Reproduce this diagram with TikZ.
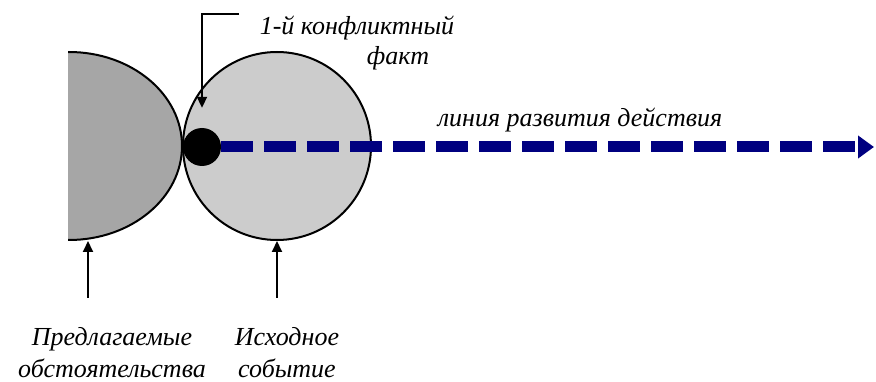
\documentclass[tikz,border=0pt]{standalone}
\usepackage{fontspec}
\setmainfont{Liberation Serif}
\usetikzlibrary{positioning, shapes.geometric, arrows.meta}
\definecolor{umstgrau}{RGB}{166,166,166}
\definecolor{ereignisgrau}{RGB}{204,204,204}
\definecolor{linienblau}{RGB}{0,0,128}

\begin{document}
\begin{tikzpicture}[x=1pt, y=-1pt,
            umstand/.style={draw=black, line width=2pt, ellipse, fill=umstgrau, minimum width=226pt, minimum height=188pt, inner sep=0pt},
            ereignis/.style={draw=black, line width=2pt, circle, fill=ereignisgrau, minimum size=188pt, inner sep=0pt},
            fakt/.style={circle, fill=black, minimum size=38pt, inner sep=0pt},
            beschriftung/.style={font=\fontsize{26}{32}\selectfont\itshape, inner sep=0pt, align=center},
            pfeil/.style={line width=2pt, -{Triangle[length=11pt, width=10pt]}},
            entwicklung/.style={line width=11pt, draw=linienblau, dash pattern=on 32pt off 11pt, -{Triangle[length=16pt, width=22pt]}}
        ]
        \useasboundingbox (0,0) rectangle (876,382);

        % Knoten
        \begin{scope}
            \clip (68,0) rectangle (876,382);
            \node[umstand] (umst) at (69,146) {};
        \end{scope}
        \node[ereignis] (ereig) at (277,146) {};
        \node[fakt] (punkt) at (202,147) {};
        \coordinate (knick) at (239,14);
        \coordinate (ende) at (874,147);
        \coordinate (umstfuss) at (88,298);
        \coordinate (ereigfuss) at (277,298);

        \node[beschriftung, anchor=base] (konflikt) at (357,35) {1-й конфликтный};
        \node[beschriftung, anchor=base] (faktname) at (398,65) {факт};
        \node[beschriftung, anchor=base] (linie) at (580,127) {линия развития действия};
        \node[beschriftung, anchor=north] (umsttext) at (112,327) {Предлагаемые\\обстоятельства};
        \node[beschriftung, anchor=north] (ereigtext) at (287,327) {Исходное\\событие};

        % Kanten
        \draw[entwicklung] (punkt.east) -- (ende);
        \draw[pfeil, shorten >=20pt] (knick) -| (punkt.north);
        \draw[pfeil] (umstfuss) -- (umstfuss |- umst.south);
        \draw[pfeil] (ereigfuss) -- (ereig.south);

    \end{tikzpicture}
\end{document}
